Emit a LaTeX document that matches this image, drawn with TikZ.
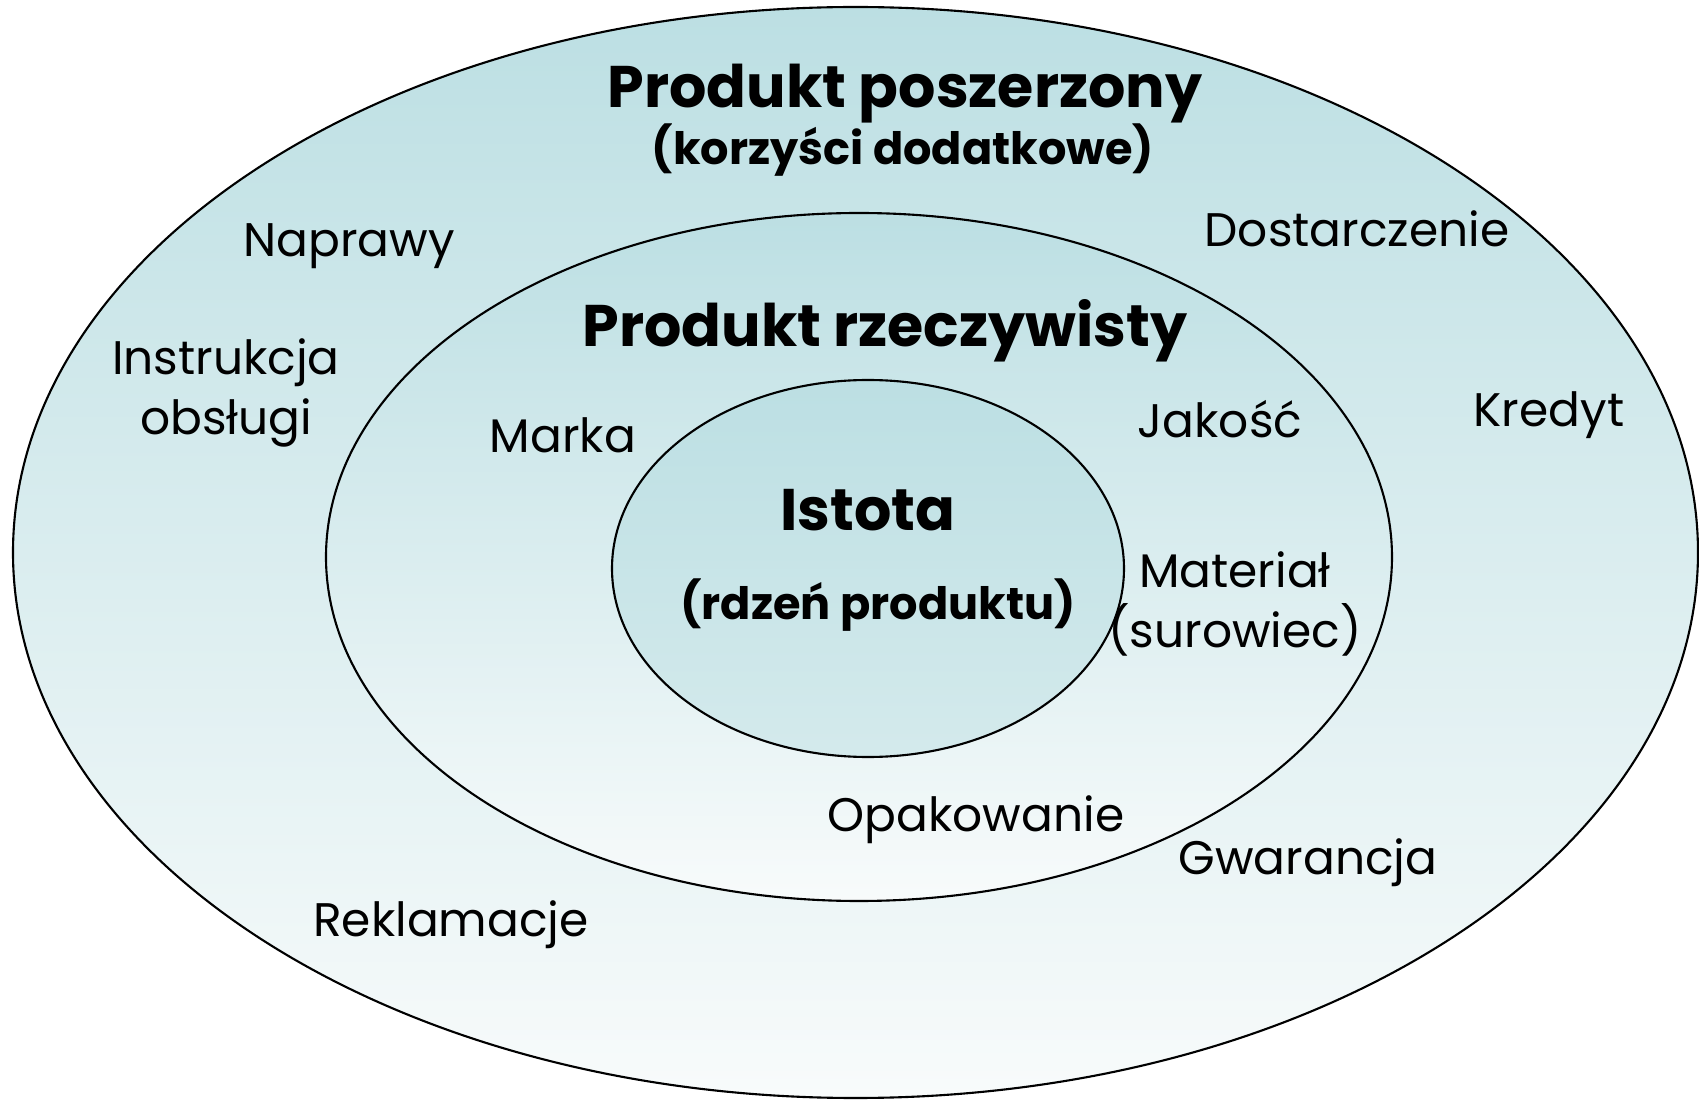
\documentclass[tikz,border=0pt]{standalone}
\usepackage{fontspec}
\setmainfont{Poppins}
\usetikzlibrary{positioning}

\definecolor{tealtop}{HTML}{BCDFE3}
\definecolor{tealbot}{HTML}{F8FBFB}
\definecolor{corebot}{HTML}{D4EAEC}

\begin{document}
\begin{tikzpicture}[
	ring/.style = {draw = black, line width = 0.6pt, top color = tealtop, bottom color = tealbot},
	lbl/.style = {font = \fontsize{13.4}{17}\selectfont, align = center, inner sep = 0pt},
	head/.style = {font = \fontsize{16.7}{20}\selectfont\bfseries, inner sep = 0pt},
	sub/.style = {font = \fontsize{12.7}{15}\selectfont\bfseries, inner sep = 0pt}
]
	\useasboundingbox (0, 0) rectangle (16.99, 10.99);
	\shadedraw [ring] (8.555, 5.465) ellipse [x radius = 8.425, y radius = 5.455];
	\shadedraw [ring] (8.59, 5.42) ellipse [x radius = 5.33, y radius = 3.44];
	\shadedraw [ring, bottom color = corebot] (8.68, 5.305) ellipse [x radius = 2.56, y radius = 1.885];

	\node [head, anchor = base] (poszerzony) at (9.05, 9.91) {Produkt poszerzony};
	\node [sub, anchor = base] (korzysci) at (9.03, 9.34) {(korzyści dodatkowe)};
	\node [head, anchor = base] (rzeczywisty) at (8.85, 7.52) {Produkt rzeczywisty};
	\node [head, anchor = base] (istota) at (8.68, 5.68) {Istota};
	\node [sub, anchor = base] (rdzen) at (8.78, 4.79) {(rdzeń produktu)};

	\node [lbl, anchor = base] (naprawy) at (3.49, 8.42) {Naprawy};
	\node [lbl, anchor = base] (dostarczenie) at (13.57, 8.52) {Dostarczenie};
	\node [lbl] (instrukcja) at (2.26, 7.06) {Instrukcja\\obsługi};
	\node [lbl, anchor = base] (kredyt) at (15.49, 6.72) {Kredyt};
	\node [lbl, anchor = base] (marka) at (5.63, 6.46) {Marka};
	\node [lbl, anchor = base] (jakosc) at (12.20, 6.61) {Jakość};
	\node [lbl] (material) at (12.35, 4.95) {Materiał\\(surowiec)};
	\node [lbl, anchor = base] (opakowanie) at (9.76, 2.68) {Opakowanie};
	\node [lbl, anchor = base] (gwarancja) at (13.08, 2.24) {Gwarancja};
	\node [lbl, anchor = base] (reklamacje) at (4.51, 1.62) {Reklamacje};
\end{tikzpicture}
\end{document}
